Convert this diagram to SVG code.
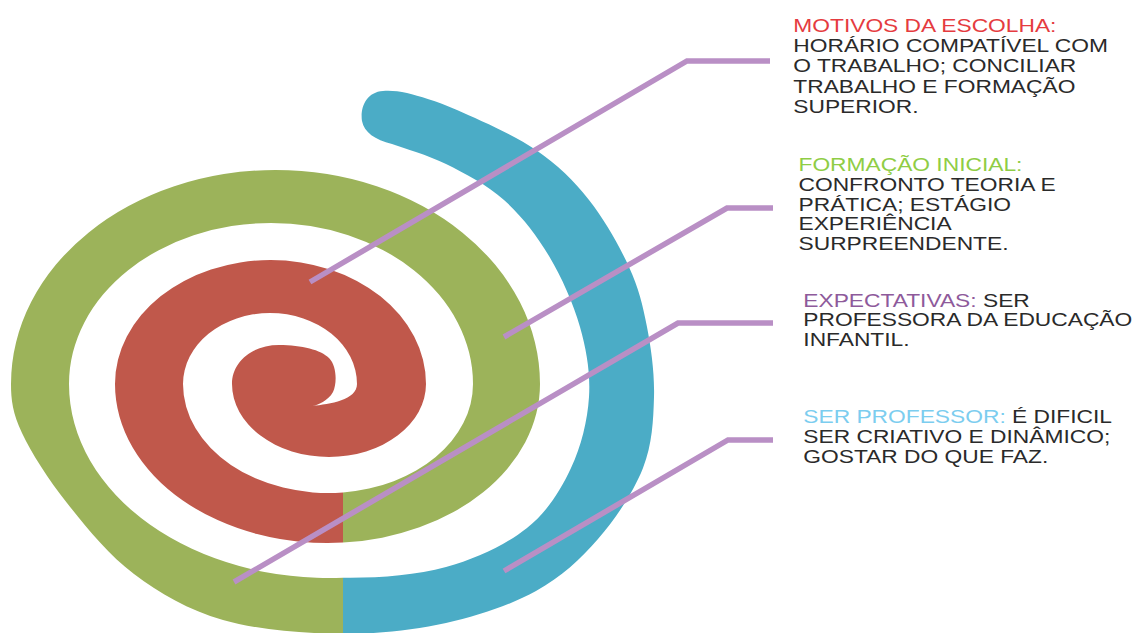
<svg xmlns="http://www.w3.org/2000/svg" width="1137" height="633" viewBox="0 0 1137 633">
  <style>
    .lbl { font-family: "Liberation Sans", Arial, sans-serif; font-size: 18.6px; fill: #2a2a2a; }
    .conn { fill: none; stroke: #b98fc5; stroke-width: 5.5; stroke-linejoin: miter; }
  </style>
  <rect width="1137" height="633" fill="#ffffff"/>

  <!-- spiral band: inner red turn, green middle turn, blue outer turn -->
  <g id="spiral">
    <path id="seg-red" fill="#c0584b" d="M 312 406 C 330 404, 357 400, 357 384 A 87 71 0 0 0 183 384 A 145 109 0 0 0 343 492.4 L 343 542.6 A 212.5 159 0 0 1 115 384 A 155.5 124 0 0 1 426 384 A 97 73 0 0 1 232 384 C 232 362, 252 345, 279 345 C 302 345, 321 350, 329 358 C 337 366, 337 384, 333 392 C 328 401, 318 405, 312 406 Z"/>
    <path id="seg-green" fill="#9cb35a" d="M 343 492.4 A 145 109 0 0 0 473 384 A 202 161 0 0 0 69 384 A 260 194 0 0 0 343 577.7 L 343 633.9 C 305.8 633.5, 257.8 630, 223 620 C 188.2 610, 160 593.5, 134 574 C 108 554.5, 85.7 526.5, 67 503 C 48.3 479.5, 31.3 452.8, 22 433 C 12.7 413.2, 11 400, 11 384 A 264.5 214 0 0 1 540 384 A 212.5 159 0 0 1 343 542.6 Z"/>
    <path id="seg-blue" fill="#4bacc6" d="M 343 633.9 C 377.3 634, 413.8 630.2, 446 623 C 478.2 615.8, 510.7 605, 536 591 C 561.3 577, 580.2 559.5, 598 539 C 615.8 518.5, 633.7 491.7, 643 468 C 652.3 444.3, 653.3 420.5, 654 397 C 654.7 373.5, 651.2 348.7, 647 327 C 642.8 305.3, 638.7 288.2, 629 267 C 619.3 245.8, 604.5 219.5, 589 200 C 573.5 180.5, 558 165, 536 150 C 514 135, 478.5 119.5, 457 110 C 435.5 100.5, 419.3 96.2, 407 93 C 398 91, 390 90.5, 383 91 C 366 92, 360 108, 362 121 C 364 132, 375 140, 392 144 C 404.7 148.8, 427.3 154.7, 446 164 C 464.7 173.3, 486.8 184.7, 504 200 C 521.2 215.3, 536.3 234.8, 549 256 C 561.7 277.2, 573.3 303.5, 580 327 C 586.7 350.5, 590.5 373.5, 589 397 C 587.5 420.5, 581.3 446.2, 571 468 C 560.7 489.8, 547.8 511.5, 527 528 C 506.2 544.5, 476.7 558.7, 446 567 C 415.3 575.3, 377.3 578.2, 343 577.7 Z"/>
  </g>

  <!-- leader lines from the spiral to the text blocks -->
  <g id="connectors" class="conn">
    <polyline points="310,282 687,61 770,61"/>
    <polyline points="504,337 727,208 773,208"/>
    <polyline points="234,582 678,323 773,323"/>
    <polyline points="504,571 728,440 773,440"/>
  </g>

  <g id="motivos" transform="translate(793.3 0) scale(1.225 1)">
    <text class="lbl" y="31.7">
      <tspan x="0" fill="#e53b40">MOTIVOS DA ESCOLHA:</tspan>
      <tspan x="0" dy="20.3">HORÁRIO COMPATÍVEL COM</tspan>
      <tspan x="0" dy="20.3">O TRABALHO; CONCILIAR</tspan>
      <tspan x="0" dy="20.3">TRABALHO E FORMAÇÃO</tspan>
      <tspan x="0" dy="20.3">SUPERIOR.</tspan>
    </text>
  </g>

  <g id="formacao" transform="translate(798.5 0) scale(1.225 1)">
    <text class="lbl" y="170.8">
      <tspan x="0" fill="#8fcd45">FORMAÇÃO INICIAL:</tspan>
      <tspan x="0" dy="19.9">CONFRONTO TEORIA E</tspan>
      <tspan x="0" dy="19.9">PRÁTICA; ESTÁGIO</tspan>
      <tspan x="0" dy="19.9">EXPERIÊNCIA</tspan>
      <tspan x="0" dy="19.9">SURPREENDENTE.</tspan>
    </text>
  </g>

  <g id="expectativas" transform="translate(803.3 0) scale(1.225 1)">
    <text class="lbl" y="306.7"><tspan x="0" fill="#8e5a9b">EXPECTATIVAS:</tspan> SER<tspan x="0" dy="19.5">PROFESSORA DA EDUCAÇÃO</tspan><tspan x="0" dy="19.5">INFANTIL.</tspan></text>
  </g>

  <g id="ser-professor" transform="translate(803.3 0) scale(1.225 1)">
    <text class="lbl" y="423.3"><tspan x="0" fill="#7ccdef">SER PROFESSOR:</tspan> É DIFICIL<tspan x="0" dy="19.7">SER CRIATIVO E DINÂMICO;</tspan><tspan x="0" dy="19.7">GOSTAR DO QUE FAZ.</tspan></text>
  </g>
</svg>
